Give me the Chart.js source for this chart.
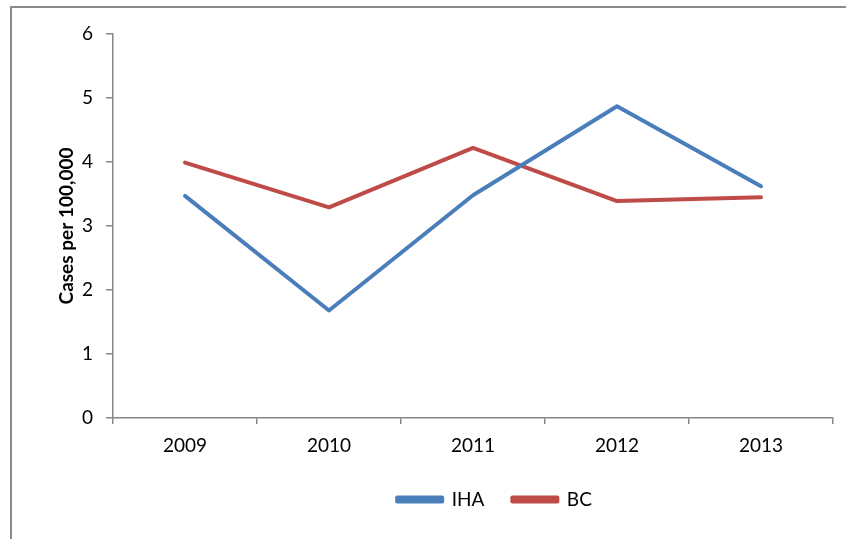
<!DOCTYPE html>
<html>
<head>
<meta charset="utf-8">
<script src="https://cdn.jsdelivr.net/npm/chart.js@4"></script>
<style>
  html, body { margin: 0; padding: 0; background: #fff; overflow: hidden; }
  #frame { position: absolute; left: 10px; top: 6px; width: 900px; height: 600px; border: 2px solid #8a8a8a; }
  #wrap { position: absolute; left: 0; top: 0; width: 846px; height: 539px; }
</style>
</head>
<body>
<div id="frame"></div>
<div id="wrap"><canvas id="casesChart" width="846" height="539"></canvas></div>
<script>
const years = ['2009', '2010', '2011', '2012', '2013'];
const ihaRates = [3.47, 1.68, 3.48, 4.87, 3.62];
const bcRates = [3.99, 3.29, 4.22, 3.39, 3.45];
const yTicks = [0, 1, 2, 3, 4, 5, 6];

const font = 'Lato, "Open Sans", sans-serif';
const axisGrey = '#868686';

// legend sits a bit right of centre, under the right half of the plot
const legendShift = {
    id: 'legendShift',
    afterLayout(chart) {
        const lg = chart.legend;
        if (lg) {
            lg.left += 78;
            lg.right += 78;
        }
    }
};

const ctx = document.getElementById('casesChart');

new Chart(ctx, {
    type: 'line',
    data: {
        labels: years,
        datasets: [{
            label: 'IHA',
            data: ihaRates,
            borderColor: '#4a7ebb',
            backgroundColor: '#4a7ebb',
            borderWidth: 4,
            borderJoinStyle: 'round',
            borderCapStyle: 'round',
            pointRadius: 0,
            tension: 0,
            fill: false
        }, {
            label: 'BC',
            data: bcRates,
            borderColor: '#be4b48',
            backgroundColor: '#be4b48',
            borderWidth: 4,
            borderJoinStyle: 'round',
            borderCapStyle: 'round',
            pointRadius: 0,
            tension: 0,
            fill: false
        }]
    },
    plugins: [legendShift],
    options: {
        responsive: false,
        animation: false,
        layout: {
            padding: { left: 0, right: 13, top: 34, bottom: 20 }
        },
        plugins: {
            tooltip: { enabled: false },
            legend: {
                position: 'bottom',
                labels: {
                    boxWidth: 45,
                    boxHeight: 4,
                    padding: 28,
                    color: '#000',
                    font: { family: font, size: 19 }
                }
            }
        },
        scales: {
            x: {
                offset: true,
                grid: {
                    offset: true,
                    drawOnChartArea: false,
                    tickLength: 6,
                    color: axisGrey,
                    lineWidth: 1.5
                },
                border: { color: axisGrey, width: 1.5 },
                ticks: {
                    color: '#000',
                    padding: 10,
                    maxRotation: 0,
                    font: { family: font, size: 19 }
                },
                afterFit: function (scale) {
                    scale.height = 44;
                }
            },
            y: {
                min: 0,
                max: 6,
                afterBuildTicks: function (scale) {
                    scale.ticks = yTicks.map(v => ({ value: v }));
                },
                grid: {
                    drawOnChartArea: false,
                    tickLength: 7,
                    color: axisGrey,
                    lineWidth: 1.5
                },
                border: { color: axisGrey, width: 1.5 },
                ticks: {
                    color: '#000',
                    padding: 13,
                    font: { family: font, size: 19 }
                },
                title: {
                    display: true,
                    text: 'Cases per 100,000',
                    color: '#000',
                    padding: { top: 55, bottom: 0 },
                    font: { family: font, size: 19, weight: 'bold' }
                },
                afterFit: function (scale) {
                    scale.width = 113;
                }
            }
        }
    }
});
</script>
</body>
</html>
